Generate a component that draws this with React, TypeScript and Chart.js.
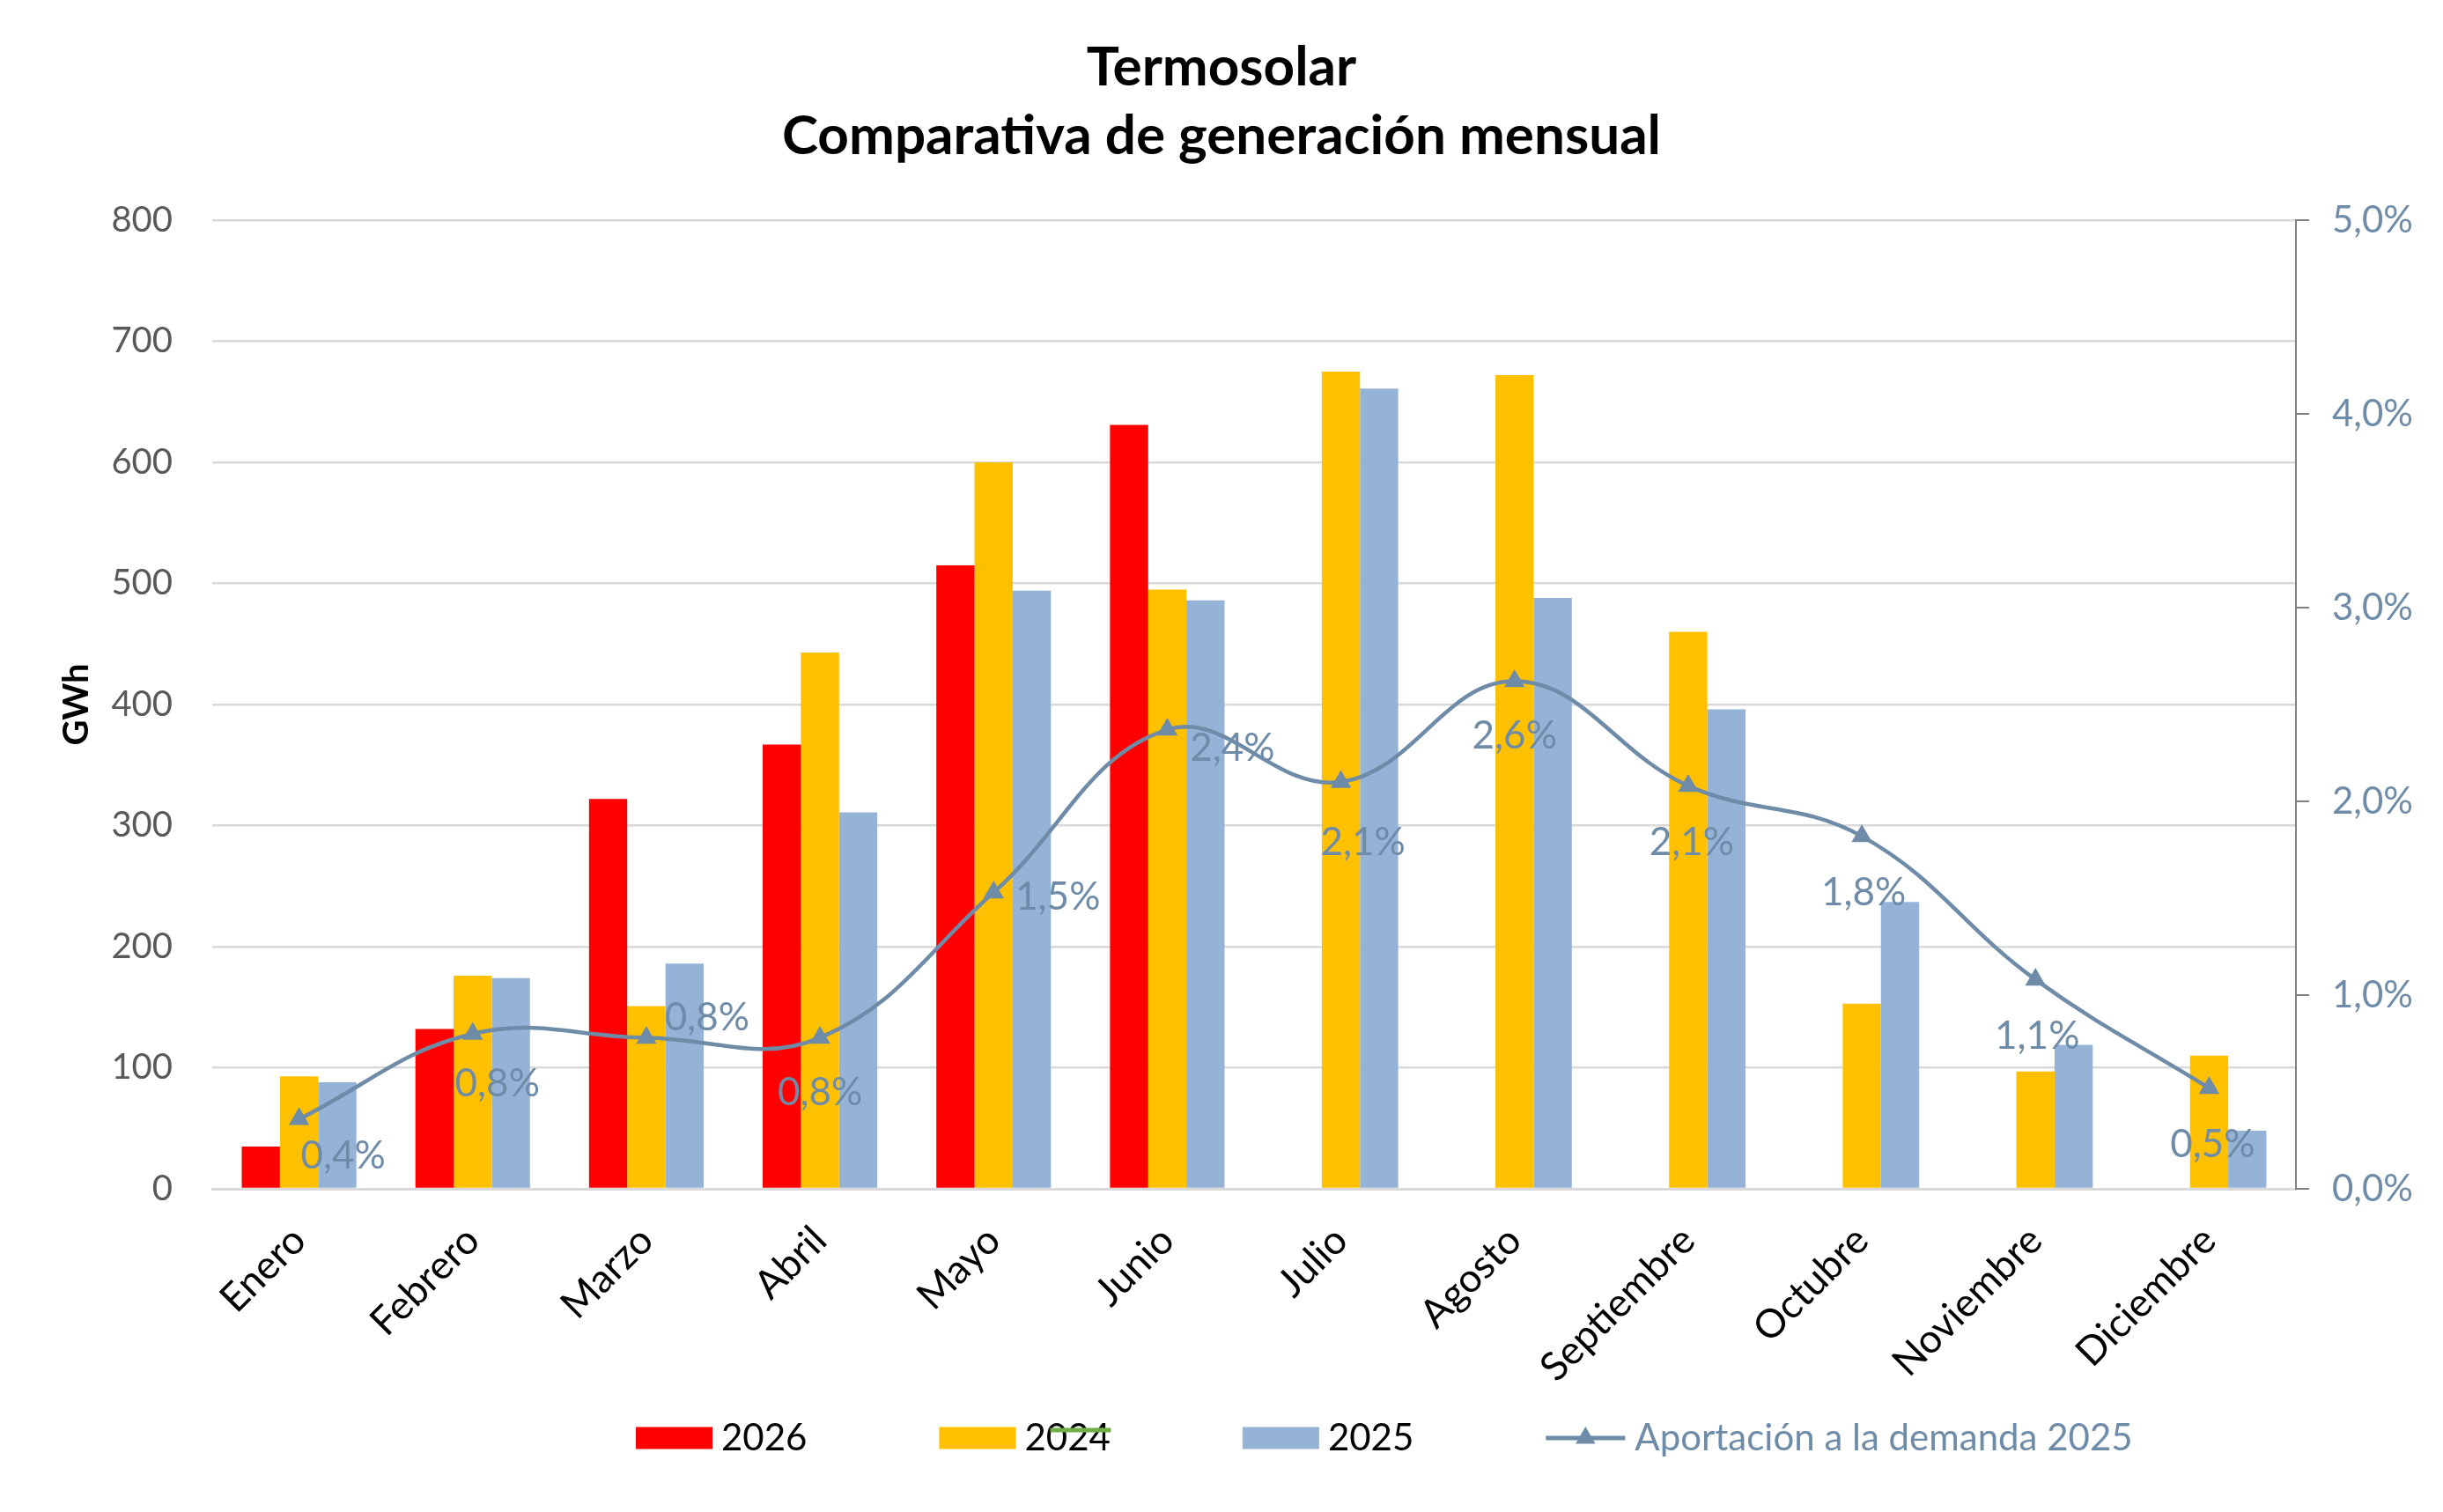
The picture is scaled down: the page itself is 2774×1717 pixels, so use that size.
import React, { useEffect, useRef } from "react";
import { Chart, registerables } from "chart.js";

Chart.register(...registerables);

const months = ["Enero", "Febrero", "Marzo", "Abril", "Mayo", "Junio", "Julio", "Agosto", "Septiembre", "Octubre", "Noviembre", "Diciembre"];
const gen2026 = [35, 132, 322, 367, 515, 631, null, null, null, null, null, null];
const gen2024 = [93, 176, 151, 443, 600, 495, 675, 672, 460, 153, 97, 110];
const gen2025 = [88, 174, 186, 311, 494, 486, 661, 488, 396, 237, 119, 48];
const share2025 = [0.36, 0.8, 0.78, 0.78, 1.53, 2.37, 2.1, 2.62, 2.08, 1.82, 1.08, 0.52];
const titleLines = ["Termosolar", "Comparativa de generación mensual"];

// label offsets (style only) relative to each marker, in px
const labelOffsets: [number, number][] = [
  [50, 42], [28, 57], [69, -23], [0, 62], [73, 5], [74, 21],
  [25, 69], [0, 62], [4, 64], [2, 64], [2, 64], [4, 64],
];

const W = 2774;
const H = 1717;
const FONT = "Lato, 'Noto Sans', sans-serif";
const RED = "#FF0000";
const YELLOW = "#FFC000";
const BLUE = "#95B3D7";
const SLATE = "#6E8BA8";
const GREEN = "#70AD47";

const fmtPct = (v: number) => v.toFixed(1).replace(".", ",") + "%";

const titlePlugin = {
  id: "customTitle",
  afterDraw(chart: any) {
    const ctx = chart.ctx;
    ctx.save();
    ctx.fillStyle = "#000";
    ctx.font = `bold 62px ${FONT}`;
    ctx.textAlign = "center";
    ctx.textBaseline = "middle";
    ctx.fillText(titleLines[0], W / 2, 77);
    ctx.fillText(titleLines[1], W / 2, 155);
    ctx.restore();
  },
};

const pointLabelPlugin = {
  id: "pointLabels",
  afterDatasetsDraw(chart: any) {
    const ctx = chart.ctx;
    const idx = chart.data.datasets.findIndex((d: any) => d.id === "share");
    const meta = chart.getDatasetMeta(idx);
    ctx.save();
    ctx.font = `44px ${FONT}`;
    ctx.fillStyle = SLATE;
    ctx.textAlign = "center";
    ctx.textBaseline = "middle";
    meta.data.forEach((pt: any, i: number) => {
      const v = share2025[i];
      if (v == null) return;
      const [dx, dy] = labelOffsets[i];
      ctx.fillText(fmtPct(v), pt.x + dx, pt.y + dy);
    });
    ctx.restore();
  },
};

const legendPlugin = {
  id: "customLegend",
  afterDraw(chart: any) {
    const ctx = chart.ctx;
    const cy = 1633;
    const boxW = 87;
    const boxH = 25;
    const gapText = 10;
    const gapItem = 150;
    let x = 722;
    ctx.save();
    ctx.font = `42px ${FONT}`;
    ctx.textBaseline = "middle";
    const ds = chart.data.datasets;
    const items = ds.filter((d: any) => d.label);
    let secondStart = 0;
    items.forEach((d: any, k: number) => {
      if (d.type === "line") {
        ctx.strokeStyle = d.borderColor;
        ctx.lineWidth = 5;
        ctx.beginPath();
        ctx.moveTo(x, cy);
        ctx.lineTo(x + 90, cy);
        ctx.stroke();
        ctx.fillStyle = d.borderColor;
        const r = 13;
        const mx = x + 45;
        ctx.beginPath();
        ctx.moveTo(mx, cy - r);
        ctx.lineTo(mx + r * 0.866, cy + r * 0.5);
        ctx.lineTo(mx - r * 0.866, cy + r * 0.5);
        ctx.closePath();
        ctx.fill();
        ctx.fillStyle = SLATE;
        ctx.fillText(d.label, x + 101, cy);
        x += 101 + ctx.measureText(d.label).width + gapItem;
      } else {
        if (k === 1) secondStart = x;
        ctx.fillStyle = d.backgroundColor;
        ctx.fillRect(x, cy - boxH / 2, boxW, boxH);
        ctx.fillStyle = "#000";
        ctx.fillText(d.label, x + boxW + gapText, cy);
        x += boxW + gapText + ctx.measureText(d.label).width + gapItem;
      }
    });
    // unnamed extra series marker overlapping the second entry
    const extra = ds.find((d: any) => !d.label);
    if (extra) {
      ctx.strokeStyle = extra.borderColor;
      ctx.lineWidth = 5;
      ctx.beginPath();
      ctx.moveTo(secondStart + 126, cy - 9);
      ctx.lineTo(secondStart + 195, cy - 9);
      ctx.stroke();
    }
    ctx.restore();
  },
};

export default function App() {
  const ref = useRef<HTMLCanvasElement>(null);
  useEffect(() => {
    if (!ref.current) return;
    const chart = new Chart(ref.current, {
      type: "bar",
      data: {
        labels: months,
        datasets: [
          { label: "2026", data: gen2026, backgroundColor: RED, yAxisID: "y", order: 1 },
          { label: "2024", data: gen2024, backgroundColor: YELLOW, yAxisID: "y", order: 1 },
          { type: "line", label: "", data: [], borderColor: GREEN, yAxisID: "y", order: 2 } as any,
          { label: "2025", data: gen2025, backgroundColor: BLUE, yAxisID: "y", order: 1 },
          {
            id: "share",
            type: "line",
            label: "Aportación a la demanda 2025",
            data: share2025,
            yAxisID: "y1",
            borderColor: SLATE,
            backgroundColor: SLATE,
            borderWidth: 4.5,
            tension: 0.4,
            pointStyle: "triangle",
            pointRadius: 13.5,
            pointBackgroundColor: SLATE,
            pointBorderColor: SLATE,
            pointBorderWidth: 0,
            order: 0,
          } as any,
        ],
      },
      options: {
        responsive: false,
        animation: false,
        devicePixelRatio: 1,
        layout: { padding: { top: 250, left: 0, right: 0, bottom: 0 } },
        datasets: { bar: { categoryPercentage: 0.66, barPercentage: 1.0, borderWidth: 0 } },
        plugins: {
          legend: { display: false },
          title: { display: false },
          tooltip: { enabled: false },
        },
        scales: {
          x: {
            grid: { display: false },
            border: { display: true, color: "#D9D9D9", width: 3 },
            ticks: {
              autoSkip: false,
              minRotation: 45,
              maxRotation: 45,
              padding: 24,
              color: "#000",
              font: { family: FONT, size: 45 },
            },
            afterFit: (s: any) => { s.height = H - 1350; },
          },
          y: {
            position: "left",
            min: 0,
            max: 800,
            ticks: { stepSize: 100, padding: 45, color: "#595959", font: { family: FONT, size: 40 } },
            grid: { color: "#D9D9D9", lineWidth: 2.5, drawTicks: false },
            border: { display: false },
            title: {
              display: true,
              text: "GWh",
              color: "#000",
              font: { family: FONT, size: 40, weight: "bold" },
              padding: { top: 63, bottom: 0 },
            },
            afterFit: (s: any) => { s.width = 241; },
          },
          y1: {
            position: "right",
            min: 0,
            max: 5,
            ticks: {
              stepSize: 1,
              padding: 26,
              color: SLATE,
              font: { family: FONT, size: 42 },
              callback: (v: any) => fmtPct(Number(v)),
            },
            grid: { drawOnChartArea: false, drawTicks: true, tickLength: 15, color: "#808080", lineWidth: 2 },
            border: { display: true, color: "#808080", width: 2 },
            afterFit: (s: any) => { s.width = W - 2607; },
          },
        },
      },
      plugins: [titlePlugin, pointLabelPlugin, legendPlugin],
    });
    return () => chart.destroy();
  }, []);
  return (
    <div style={{ position: "absolute", left: 0, top: 0, width: W, height: H, background: "#fff" }}>
      <canvas ref={ref} width={W} height={H} style={{ width: W, height: H, display: "block" }} />
    </div>
  );
}
